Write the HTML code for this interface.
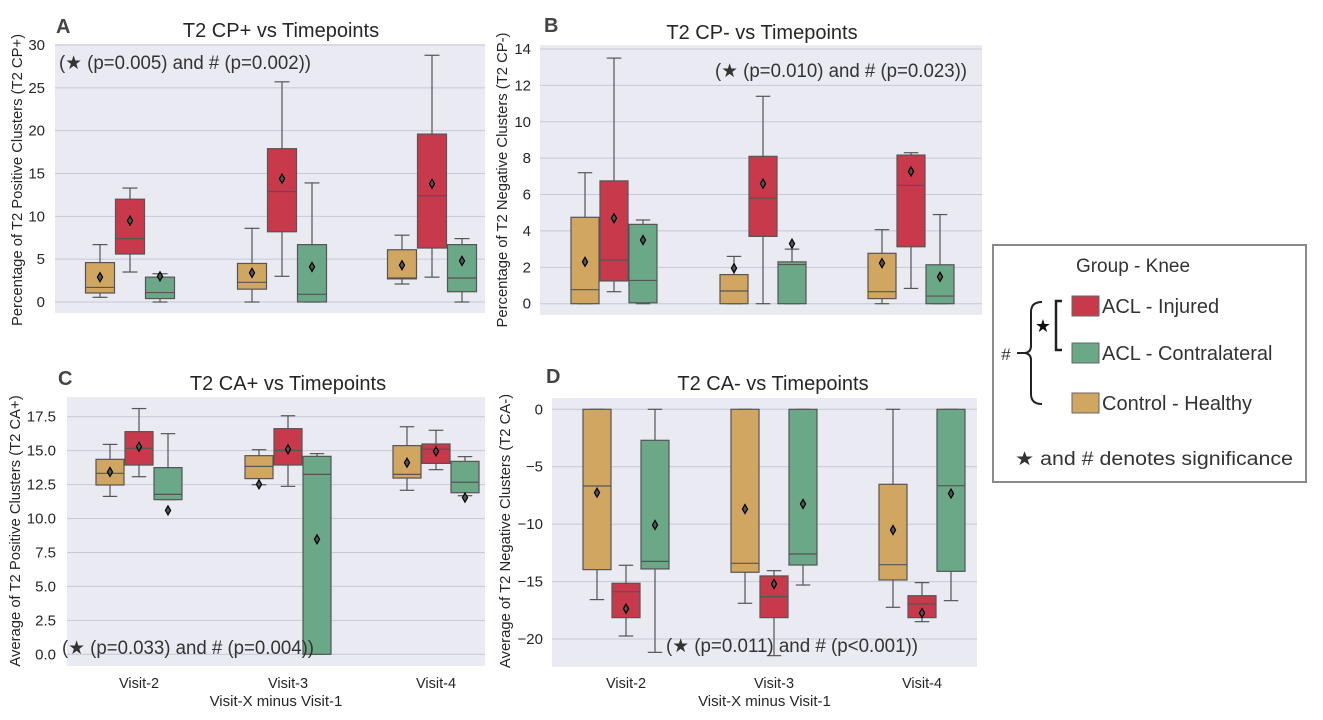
<!DOCTYPE html>
<html><head><meta charset="utf-8"><style>
body{margin:0;background:#fff;width:1323px;height:720px;overflow:hidden}
svg{display:block;font-family:"Liberation Sans",sans-serif}
</style></head><body>
<svg id="fig" width="1323" height="720"></svg>
<script>
// hue order: Control-Healthy, ACL-Injured, ACL-Contralateral
// each box: [whiskerLow, q1, median, q3, whiskerHigh, mean]
const visits = ["Visit-2","Visit-3","Visit-4"];
const groups = ["Control - Healthy","ACL - Injured","ACL - Contralateral"];
const dataA = [
 [[0.55,1.05,1.7,4.6,6.7,2.9],[3.5,5.6,7.4,12.0,13.3,9.5],[0,0.4,1.1,2.9,3.3,3.0]],
 [[0,1.5,2.3,4.5,8.6,3.4],[3.0,8.2,12.9,17.9,25.7,14.4],[0,0,0.9,6.7,13.9,4.1]],
 [[2.1,2.7,2.8,6.1,7.8,4.3],[2.9,6.3,12.4,19.6,28.8,13.8],[0,1.2,2.8,6.7,7.4,4.8]]];
const dataB = [
 [[0,0,0.77,4.75,7.2,2.3],[0.66,1.25,2.4,6.75,13.5,4.7],[0,0.05,1.28,4.36,4.6,3.5]],
 [[0,0,0.7,1.6,2.6,1.95],[0,3.7,5.8,8.1,11.4,6.6],[0,0,2.15,2.3,3.0,3.3]],
 [[0,0.28,0.66,2.77,4.07,2.23],[0.84,3.13,6.5,8.17,8.3,7.27],[0,0,0.42,2.14,4.9,1.48]]];
const dataC = [
 [[11.63,12.47,13.33,14.36,15.46,13.43],[13.08,13.94,15.17,16.4,18.1,15.29],[11.39,11.39,11.78,13.75,16.25,10.6]],
 [[12.49,12.94,13.84,14.63,15.07,12.52],[12.37,13.94,15.02,16.62,17.57,15.1],[0,0,13.25,14.58,14.78,8.47]],
 [[12.08,12.98,13.25,15.37,16.76,14.11],[13.6,14.06,15.1,15.49,16.5,14.95],[11.68,11.9,12.67,14.21,14.56,11.54]]];
const dataD = [
 [[-16.57,-13.96,-6.68,0,0,-7.26],[-19.74,-18.14,-15.88,-15.15,-13.58,-17.36],[-21.16,-13.9,-13.24,-2.7,0,-10.07]],
 [[-16.89,-14.19,-13.41,0,0,-8.68],[-21.45,-18.14,-16.31,-14.51,-14.05,-15.21],[-15.3,-13.56,-12.6,0,0,-8.24]],
 [[-17.24,-14.86,-13.53,-6.53,0,-10.51],[-18.49,-18.14,-16.95,-16.23,-15.09,-17.74],[-16.66,-14.11,-6.65,0,0,-7.34]]];
const ticksA = [0,5,10,15,20,25,30];
const ticksB = [0,2,4,6,8,10,12,14];
const ticksC = [0,2.5,5,7.5,10,12.5,15,17.5];
const ticksD = [0,-5,-10,-15,-20];
const tickLabC = ["0.0","2.5","5.0","7.5","10.0","12.5","15.0","17.5"];

const colors = ["#d1a660","#c8394b","#6aa888"];
const NS="http://www.w3.org/2000/svg";
const svg=document.getElementById('fig');
function mk(tag,attrs,parent,text){const e=document.createElementNS(NS,tag);for(const k in attrs)e.setAttribute(k,attrs[k]);if(text!==undefined)e.textContent=text;(parent||svg).appendChild(e);return e;}

function panel(p){
  const g=mk('g',{});
  
  
  const y=v=>p.y0px+(v-p.v0)*(p.y1px-p.y0px)/(p.v1-p.v0);
  const bg=mk('rect',{x:p.L,y:p.T,width:p.R-p.L,height:p.B-p.T,fill:'#eaeaf2'},g);
  
  
  p.ticks.forEach((t,i)=>{
    const gl=mk('line',{x1:p.L,x2:p.R,y1:y(t),y2:y(t),stroke:'#c8c8d6','stroke-width':1},g);
    
    
    const tl=mk('text',{x:p.tickX,y:y(t)+5,'text-anchor':'end','font-size':15,fill:'#262626'},g,p.tickLab?p.tickLab[i]:(t<0?'\u2212'+(-t):String(t)));
    
    
  });
  const bw=p.bw;
  p.data.forEach((vis,vi)=>{
    vis.forEach((b,hi)=>{
      const cx=p.cx[vi]+(hi-1)*bw;
      const bg2=mk('g',{},g);
      
      
      mk('line',{x1:cx,x2:cx,y1:y(b[0]),y2:y(b[1]),stroke:'#555','stroke-width':1.2},bg2);
      mk('line',{x1:cx,x2:cx,y1:y(b[3]),y2:y(b[4]),stroke:'#555','stroke-width':1.2},bg2);
      mk('line',{x1:cx-bw/4,x2:cx+bw/4,y1:y(b[0]),y2:y(b[0]),stroke:'#555','stroke-width':1.2},bg2);
      mk('line',{x1:cx-bw/4,x2:cx+bw/4,y1:y(b[4]),y2:y(b[4]),stroke:'#555','stroke-width':1.2},bg2);
      const top=Math.min(y(b[3]),y(b[1]));
      mk('rect',{x:cx-bw/2+0.5,y:top,width:bw-1,height:Math.max(Math.abs(y(b[1])-y(b[3])),0.5),fill:colors[hi],stroke:'#555','stroke-width':1.2},bg2);
      mk('line',{x1:cx-bw/2+0.5,x2:cx+bw/2-0.5,y1:y(b[2]),y2:y(b[2]),stroke:'#555','stroke-width':1.2},bg2);
      const my=y(b[5]);
      mk('path',{d:`M${cx},${my-4.5}L${cx+2.6},${my}L${cx},${my+4.5}L${cx-2.6},${my}Z`,fill:'#555',stroke:'#000','stroke-width':1.2},bg2);
    });
    if(p.xlab){
      const xl=mk('text',{x:p.cx[vi],y:688,'text-anchor':'middle','font-size':14.5,fill:'#262626'},g,visits[vi]);
      
      
    }
  });
  if(p.xlab){
    const xt=mk('text',{x:(p.L+p.R)/2,y:706,'text-anchor':'middle','font-size':15,fill:'#262626'},g,'Visit-X minus Visit-1');
    
    
  }
  const yt=mk('text',{transform:`translate(${p.ylx},${p.yly}) rotate(-90)`,'text-anchor':'middle','font-size':14.8,fill:'#262626'},g,p.ylabel);
  
  
  const ti=mk('text',{x:p.titleX,y:p.titleY,'text-anchor':'middle','font-size':20,fill:'#262626'},g,p.title);
  
  
  const le=mk('text',{x:p.letX,y:p.letY,'font-size':20,'font-weight':'bold',fill:'#444'},g,p.id);
  
  
  const an=mk('text',{x:p.anX,y:p.anY,'font-size':19,fill:'#333',textLength:252,lengthAdjust:'spacingAndGlyphs'},g,p.ann);
  
  
}

panel({id:'A',data:dataA,ticks:ticksA,L:55,R:485,T:44,B:313,v0:0,v1:30,y0px:302,y1px:45,cx:[130,282,432],bw:30,tickX:45,
  ylx:22,yly:180,ylabel:'Percentage of T2 Positive Clusters (T2 CP+)',title:'T2 CP+ vs Timepoints',titleX:281,titleY:37,letX:56,letY:33,
  ann:'(\u2605 (p=0.005) and # (p=0.002))',anX:59,anY:69});
panel({id:'B',data:dataB,ticks:ticksB,L:540,R:982,T:45,B:315,v0:0,v1:14,y0px:303.7,y1px:49,cx:[614,763,911],bw:29,tickX:531,
  ylx:507,yly:180,ylabel:'Percentage of T2 Negative Clusters (T2 CP-)',title:'T2 CP- vs Timepoints',titleX:762,titleY:39,letX:544,letY:32,
  ann:'(\u2605 (p=0.010) and # (p=0.023))',anX:715,anY:77});
panel({id:'C',data:dataC,ticks:ticksC,tickLab:tickLabC,L:67,R:485,T:397,B:666,v0:0,v1:17.5,y0px:654.3,y1px:416.7,cx:[139,288,436],bw:29,tickX:56,
  ylx:20,yly:531,ylabel:'Average of T2 Positive Clusters (T2 CA+)',title:'T2 CA+ vs Timepoints',titleX:288,titleY:390,letX:58,letY:385,
  ann:'(\u2605 (p=0.033) and # (p=0.004))',anX:62,anY:654,xlab:true});
panel({id:'D',data:dataD,ticks:ticksD,L:552,R:977,T:398,B:667,v0:0,v1:-20,y0px:409.3,y1px:639,cx:[626,774,922],bw:29,tickX:543,
  ylx:510,yly:531,ylabel:'Average of T2 Negative Clusters (T2 CA-)',title:'T2 CA- vs Timepoints',titleX:773,titleY:390,letX:546,letY:383,
  ann:'(\u2605 (p=0.011) and # (p<0.001))',anX:666,anY:652,xlab:true});

// legend
const lg=mk('g',{});


mk('rect',{x:993,y:245,width:313,height:237,fill:'#fff',stroke:'#8a8a8a','stroke-width':2},lg);
const lt=mk('text',{x:1133,y:272,'text-anchor':'middle','font-size':19,fill:'#333'},lg,'Group - Knee');


const legOrder=[1,2,0], legY=[296,343,393];
legOrder.forEach((hi,i)=>{
  const e=mk('g',{},lg);
  
  
  mk('rect',{x:1072,y:legY[i],width:27,height:20,fill:colors[hi],stroke:'#666','stroke-width':1},e);
  mk('text',{x:1102,y:legY[i]+17,'font-size':20,fill:'#333'},e,groups[hi]);
});
mk('path',{d:'M1062,301 H1056 V350 H1062',fill:'none',stroke:'#222','stroke-width':2.5},lg);
mk('text',{x:1043,y:332,'font-size':18,'text-anchor':'middle',fill:'#111'},lg,'\u2605');
mk('path',{d:'M1042,302 Q1031,302 1031,312 V346 Q1031,352 1025,353 Q1031,354 1031,360 V394 Q1031,404 1042,404',fill:'none',stroke:'#222','stroke-width':2},lg);
mk('line',{x1:1017,x2:1025,y1:353,y2:353,stroke:'#222','stroke-width':2},lg);
mk('text',{x:1006,y:360,'font-size':17,'text-anchor':'middle',fill:'#333'},lg,'#');
const ln=mk('text',{x:1015,y:465,'font-size':19,fill:'#333',textLength:278,lengthAdjust:'spacingAndGlyphs'},lg,'\u2605 and # denotes significance');


</script>
</body></html>
